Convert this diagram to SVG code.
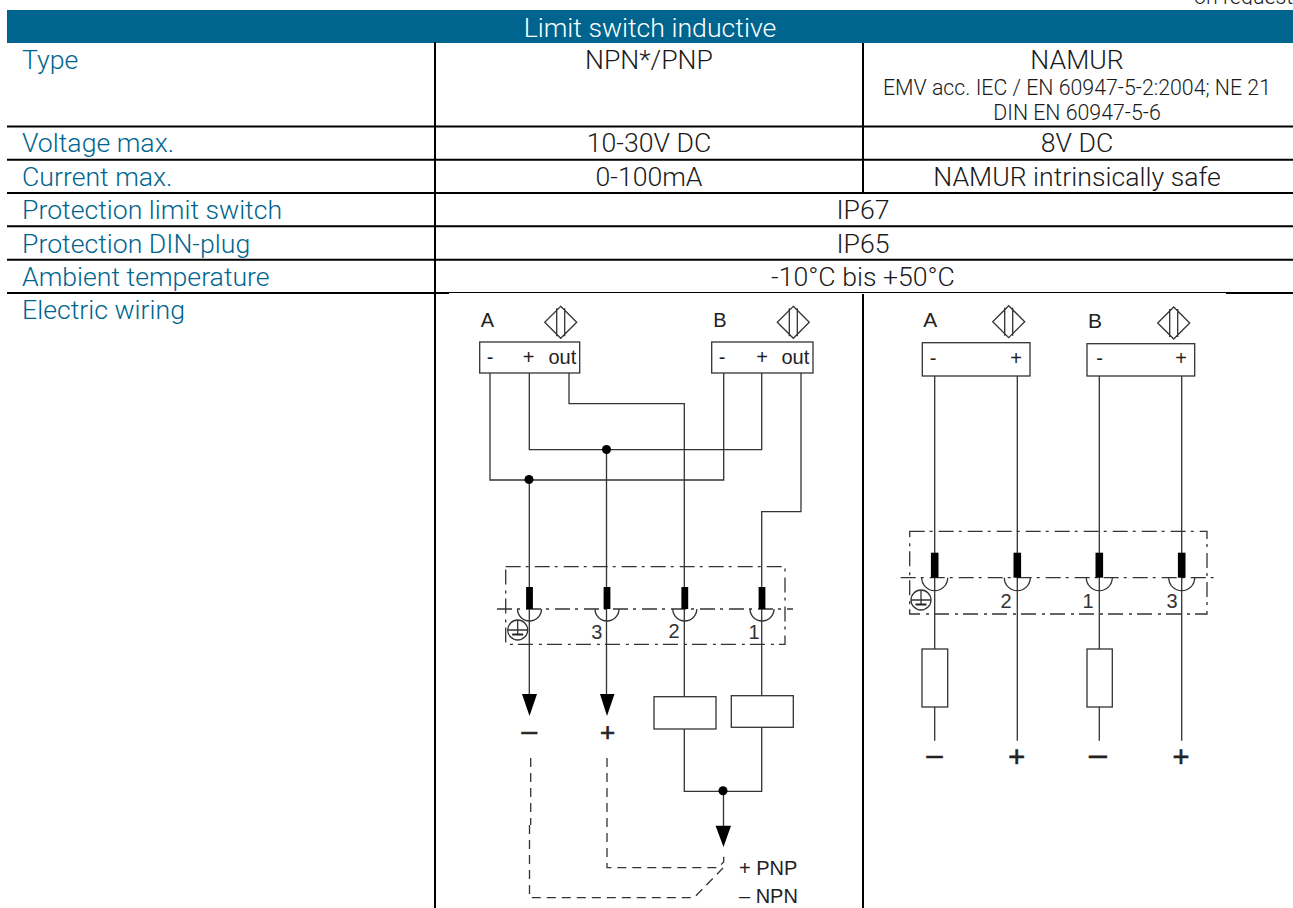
<svg xmlns="http://www.w3.org/2000/svg" width="1293" height="908" viewBox="0 0 1293 908">
<style>
text{font-family:Roboto,"Liberation Sans",sans-serif;font-weight:300;font-size:26.67px;fill:#1a1a1a}
.l{fill:#00658e}
.m{text-anchor:middle}
.s{font-size:21.33px}
.h{fill:#fff}
.g{stroke:#000;stroke-width:2;fill:none}
.w{stroke:#333;stroke-width:1.3;fill:none}
.b{fill:#fff;stroke:#333;stroke-width:1.3}
.k{fill:#000;stroke:none}
.dd{stroke:#333;stroke-width:1.3;fill:none;stroke-dasharray:15 5 3 6}
.da{stroke:#333;stroke-width:1.3;fill:none;stroke-dasharray:9 6}
text.d{font-family:"Liberation Sans",Arial,sans-serif;font-weight:400;fill:#222;font-size:20px}
text.c{text-anchor:middle}
text.n{font-family:"Liberation Sans",Arial,sans-serif;font-weight:400;fill:#333;font-size:20px;text-anchor:middle}
text.p{font-family:"Liberation Sans",Arial,sans-serif;font-weight:400;fill:#222;stroke:#222;stroke-width:.6;font-size:29px;text-anchor:middle}
</style>
<defs>
<clipPath id="top-clip"><rect x="1180" y="0" width="113" height="5"/></clipPath>
<g id="sensor"><path class="w" d="M0-16 16 0 0 16-16 0Z M-4-14V14 M4-14V14"/></g>
<g id="plug"><rect class="k" x="-3.4" y="-22" width="6.8" height="22"/><path class="w" d="M-12 0A12 12 0 0 0 12 0"/></g>
<g id="plug-r"><rect class="k" x="-3.800" y="-25" width="7.600" height="25"/><path class="w" d="M-13 0A13 13 0 0 0 13 0"/></g>
<g id="earth"><circle class="w" r="10"/><path class="w" d="M-10 0H10M0-10V4"/><path d="M-5.500 4.500H5.500" stroke="#222" stroke-width="2" fill="none"/></g>
</defs>
<rect width="1293" height="908" fill="#fff"/>

<g id="table">
<text class="s" x="1194" y="4" clip-path="url(#top-clip)">on request</text>
<rect x="7" y="10" width="1286" height="33" fill="#00658e"/>
<text class="h m" x="650" y="36.700">Limit switch inductive</text>
<path class="g" d="M7 126.500H1293M7 159.700H1293M7 193H1293M7 226.200H1293M7 259.700H1293M7 293H449M1226 293H1293M435 42V908M863 43V193M863 294V908"/>
<path d="M449 292.500H1226" stroke="#000" stroke-width="1" fill="none"/>
<text class="l" x="22" y="68.700">Type</text>
<text class="l" x="22" y="152.200">Voltage max.</text>
<text class="l" x="22" y="185.700">Current max.</text>
<text class="l" x="22" y="218.700">Protection limit switch</text>
<text class="l" x="22" y="252.700">Protection DIN-plug</text>
<text class="l" x="22" y="285.700">Ambient temperature</text>
<text class="l" x="22" y="318.700">Electric wiring</text>
<text class="m" x="649" y="68.700">NPN*/PNP</text>
<text class="m" x="1077" y="68.700">NAMUR</text>
<text class="m s" x="1077" y="95">EMV acc. IEC / EN 60947-5-2:2004; NE 21</text>
<text class="m s" x="1077" y="120">DIN EN 60947-5-6</text>
<text class="m" x="649" y="152.200">10-30V DC</text>
<text class="m" x="1077" y="152.200">8V DC</text>
<text class="m" x="649" y="185.700">0-100mA</text>
<text class="m" x="1077" y="185.700">NAMUR intrinsically safe</text>
<text class="m" x="863" y="218.700">IP67</text>
<text class="m" x="863" y="252.700">IP65</text>
<text class="m" x="863" y="285.700">-10°C bis +50°C</text>
</g>

<g id="connectors">
<path class="w" d="M490 373V480H723.700V373M529.300 373V449.700H761.700V373M569 373V403.700H684.300V696.700M801 373V511.700H761.700V695.700"/>
<path class="w" d="M529.300 480V700M606.500 449.700V700"/>
<path class="w" d="M684.300 729V791.300H761.700V727.300M723.500 791.300V830"/>
<path class="dd" d="M505.700 566.700H785V644.300H505.700Z"/>
<path class="dd" d="M497 609H793"/>
<path class="da" d="M530.700 758V825M529.500 825V897.700H694L723 868M607 758V867.700H718L723.700 862V855"/>
<path class="w" d="M934.700 376V649M934.700 707V740.700M1017.300 376V740.700M1099.300 376V649M1099.300 707V740.700M1181.700 376V740.700"/>
<path class="dd" d="M909.700 531.300H1207V614H909.700Z"/>
<path class="dd" d="M900.700 577.700H1216.300"/>
</g>

<g id="sensor-a-left">
<text class="d" x="480.700" y="327">A</text>
<use href="#sensor" x="560.700" y="322.300"/>
<rect class="b" x="479.700" y="342" width="100" height="31"/>
<text class="d c" x="490" y="363.500">-</text><text class="d c" x="528.700" y="363.500">+</text><text class="d" x="548.500" y="363.500">out</text>
</g>
<g id="sensor-b-left">
<text class="d" x="713.300" y="327">B</text>
<use href="#sensor" x="793.300" y="322.300"/>
<rect class="b" x="711.700" y="342" width="101.300" height="31"/>
<text class="d c" x="722" y="363.500">-</text><text class="d c" x="762" y="363.500">+</text><text class="d" x="781.500" y="363.500">out</text>
</g>
<g id="junctions">
<circle class="k" cx="529" cy="479.500" r="4.500"/>
<circle class="k" cx="606.500" cy="449.500" r="4.500"/>
<circle class="k" cx="723" cy="790.800" r="4.500"/>
</g>
<g id="connector-left">
<use href="#plug" x="529.500" y="609"/>
<use href="#plug" x="607" y="609"/>
<use href="#plug" x="684.800" y="609"/>
<use href="#plug" x="762" y="609"/>
<use href="#earth" x="517.700" y="630"/>
<text class="n" x="596.700" y="639">3</text>
<text class="n" x="674" y="638">2</text>
<text class="n" x="754" y="639">1</text>
</g>
<g id="arrows-left">
<path class="k" d="M522 694H537L529.500 716Z"/>
<path class="k" d="M600 694H614.500L607 716Z"/>
<path class="k" d="M715.500 825.700H731L723.500 847Z"/>
<text class="p" x="529.300" y="740" style="font-size:28px">–</text>
<text class="p" x="607.700" y="741" style="font-size:26px">+</text>
</g>
<g id="relay-1"><rect class="b" x="654" y="696.700" width="62" height="32.300"/></g>
<g id="relay-2"><rect class="b" x="731.300" y="695.700" width="62" height="31.600"/></g>
<g id="polarity">
<text class="d" x="739" y="875">+ PNP</text>
<text class="d" x="739" y="903">– NPN</text>
</g>

<g id="sensor-a-right">
<text class="d" x="923.300" y="327" style="font-size:21px">A</text>
<use href="#sensor" x="1008.700" y="321.700"/>
<rect class="b" x="922.300" y="342.700" width="107.700" height="33.300"/>
<text class="d c" x="933" y="365">-</text><text class="d c" x="1016" y="365">+</text>
</g>
<g id="sensor-b-right">
<text class="d" x="1088" y="328" style="font-size:21px">B</text>
<use href="#sensor" x="1173.700" y="323"/>
<rect class="b" x="1087" y="343.700" width="107.700" height="32.300"/>
<text class="d c" x="1099.700" y="365">-</text><text class="d c" x="1181" y="365">+</text>
</g>
<g id="connector-right">
<use href="#plug-r" x="934.700" y="577.700"/>
<use href="#plug-r" x="1017.300" y="577.700"/>
<use href="#plug-r" x="1099.300" y="577.700"/>
<use href="#plug-r" x="1181.700" y="577.700"/>
<use href="#earth" x="921" y="600"/>
<text class="n" x="1006" y="608">2</text>
<text class="n" x="1088" y="608">1</text>
<text class="n" x="1172" y="608">3</text>
</g>
<g id="resistor-1"><rect class="b" x="922" y="649" width="25.700" height="58"/></g>
<g id="resistor-2"><rect class="b" x="1087" y="649" width="25.300" height="58"/></g>
<g id="polarity-right">
<text class="p" x="934.500" y="765" style="font-size:29px">–</text>
<text class="p" x="1016.700" y="766.500">+</text>
<text class="p" x="1098" y="765" style="font-size:32px">–</text>
<text class="p" x="1181" y="766.500">+</text>
</g>
</svg>
